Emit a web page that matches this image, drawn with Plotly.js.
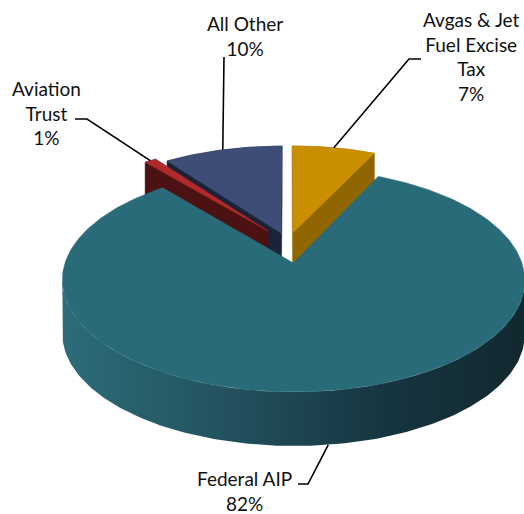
<html><head><meta charset="UTF-8"><title>Airport Funding Sources</title>
<script src="https://cdn.plot.ly/plotly-3.0.1.min.js"></script>
<style>
  body, html { margin: 0; padding: 0; background: #ffffff; }
  #chart { width: 524px; height: 514px; }
</style></head><body>
<div id="chart"></div>
<script>
  // slices, in drawing order clockwise from 12 o'clock
  const labels = ['Avgas & Jet\nFuel Excise\nTax', 'Federal AIP', 'Aviation\nTrust', 'All Other'];
  const values = [7, 82, 1, 10];
  const topColors = ['#c98f00', '#2a6b79', '#b02a2b', '#3d4d78'];
  const sideColors = ['#8f6600', '#1d4853', '#4c1213', '#1c2339'];
  const explode = [0.1, 0.19, 0.15, 0.1];

  // label placement (pixels) and leader elbows
  const labelPos = [[471, 56], [244, 491], [46, 113], [245, 36]];
  const leaderElbows = [[[421, 59], [409, 59]], [[298, 484], [308, 484]], [[75, 119], [87, 119]], [[224, 57]]];
  const anchorBelow = [false, true, false, false];

  // fake 3d view
  const CX = 288, CY = 243, RX = 222, RY = 103, PERSP = 0.15, DEPTH = 54;

  function project(u, v, drop) {
    const s = 1 / (1 - PERSP * v);
    return [CX + RX * u * s, CY + RY * v * s + (drop || 0)];
  }

  function hull(pts) {
    const p = pts.slice().sort((a, b) => a[0] - b[0] || a[1] - b[1]);
    const cross = (o, a, b) => (a[0] - o[0]) * (b[1] - o[1]) - (a[1] - o[1]) * (b[0] - o[0]);
    const lower = [], upper = [];
    for (const q of p) {
      while (lower.length >= 2 && cross(lower[lower.length - 2], lower[lower.length - 1], q) <= 0) lower.pop();
      lower.push(q);
    }
    for (let i = p.length - 1; i >= 0; i--) {
      const q = p[i];
      while (upper.length >= 2 && cross(upper[upper.length - 2], upper[upper.length - 1], q) <= 0) upper.pop();
      upper.push(q);
    }
    upper.pop(); lower.pop();
    return lower.concat(upper);
  }

  function poly(pts, color, extra) {
    const t = {
      x: pts.map(p => p[0]).concat([pts[0][0]]),
      y: pts.map(p => p[1]).concat([pts[0][1]]),
      mode: 'lines', fill: 'toself', fillcolor: color,
      line: { color: color, width: 0.5 },
      hoverinfo: 'skip', type: 'scatter'
    };
    return Object.assign(t, extra || {});
  }

  const total = values.reduce((a, b) => a + b, 0);
  let acc = 0;
  const slices = values.map((v, i) => {
    const a0 = acc / total * 2 * Math.PI;
    acc += v;
    const a1 = acc / total * 2 * Math.PI;
    const mid = (a0 + a1) / 2;
    const ox = explode[i] * Math.sin(mid), oy = -explode[i] * Math.cos(mid);
    const n = Math.max(3, Math.ceil((a1 - a0) / (Math.PI / 180)));
    const arc = [];
    for (let k = 0; k <= n; k++) {
      const t = a0 + (a1 - a0) * k / n;
      arc.push([ox + Math.sin(t), oy - Math.cos(t)]);
    }
    const anchor = project(ox + Math.sin(mid), oy - Math.cos(mid), anchorBelow[i] ? DEPTH : 0);
    return { i, a0, a1, apex: [ox, oy], arc, anchor, big: v / total > 0.5 };
  });

  const traces = [];
  const drawOrder = [0, 3, 2, 1];
  drawOrder.forEach(i => {
    const s = slices[i];
    const topPts = [project(s.apex[0], s.apex[1])].concat(s.arc.map(p => project(p[0], p[1])));
    if (!s.big) {
      const all = topPts.concat(topPts.map(p => [p[0], p[1] + DEPTH]));
      traces.push(poly(hull(all), sideColors[i]));
    } else {
      // front wall only, between the left and right silhouette points
      const arcPts = s.arc.map(p => project(p[0], p[1]));
      let iMin = 0, iMax = 0;
      arcPts.forEach((p, k) => {
        if (p[0] < arcPts[iMin][0]) iMin = k;
        if (p[0] > arcPts[iMax][0]) iMax = k;
      });
      const front = arcPts.slice(Math.min(iMin, iMax), Math.max(iMin, iMax) + 1);
      const wall = front.concat(front.slice().reverse().map(p => [p[0], p[1] + DEPTH]));
      traces.push(poly(wall, sideColors[i], {
        fillgradient: {
          type: 'horizontal',
          colorscale: [[0, '#2d6c79'], [0.35, '#22525e'], [0.7, '#163540'], [1, '#12282f']]
        },
        line: { color: '#163540', width: 0 }
      }));
    }
    traces.push(poly(topPts, topColors[i]));
  });

  // leader lines
  slices.forEach(s => {
    const pts = leaderElbows[s.i].concat([s.anchor]);
    traces.push({
      x: pts.map(p => p[0]), y: pts.map(p => p[1]),
      mode: 'lines', type: 'scatter', hoverinfo: 'skip',
      line: { color: '#000000', width: 1.6 }
    });
  });

  const esc = t => t.replace(/&/g, '&amp;').replace(/\n/g, '<br>');
  const annotations = slices.map(s => ({
    x: labelPos[s.i][0], y: labelPos[s.i][1], xref: 'x', yref: 'y',
    text: esc(labels[s.i]) + '<br>' + Math.round(values[s.i] / total * 100) + '%',
    showarrow: false, align: 'center', xanchor: 'center', yanchor: 'middle',
    font: { family: 'Lato, "Open Sans", sans-serif', size: 19, color: '#111111' }
  }));

  const layout = {
    width: 524, height: 514,
    margin: { l: 0, r: 0, t: 0, b: 0 },
    paper_bgcolor: '#ffffff', plot_bgcolor: '#ffffff',
    showlegend: false,
    xaxis: { range: [0, 524], visible: false, fixedrange: true },
    yaxis: { range: [514, 0], visible: false, fixedrange: true },
    annotations: annotations
  };

  Plotly.newPlot('chart', traces, layout, { displayModeBar: false, staticPlot: true });
</script>
</body></html>
